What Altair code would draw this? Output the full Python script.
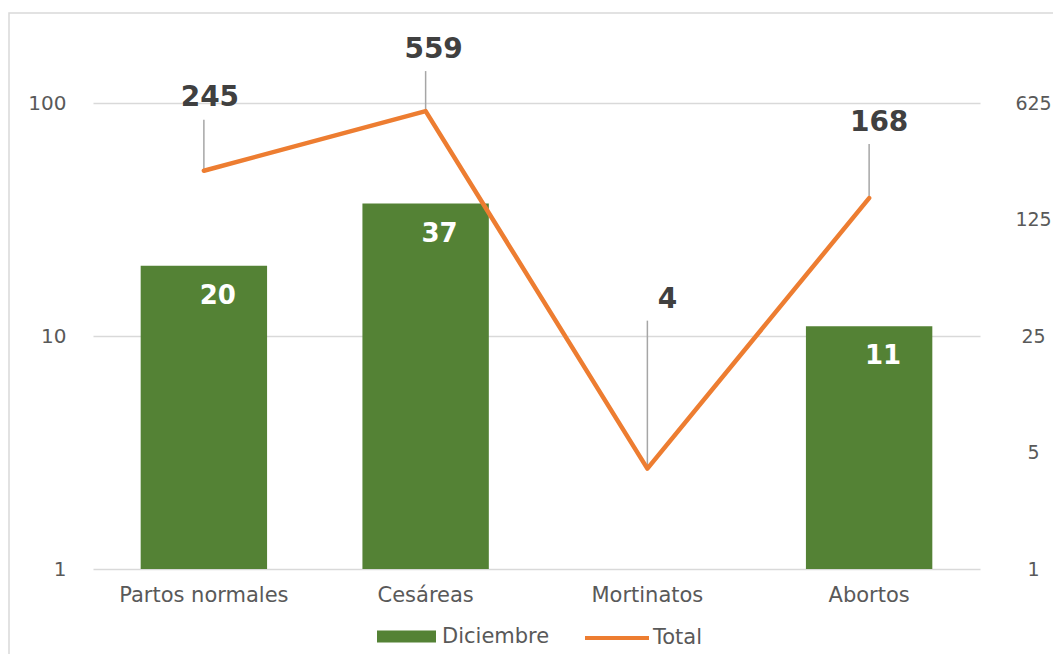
import altair as alt
import pandas as pd

categories = ["Partos normales", "Cesáreas", "Mortinatos", "Abortos"]
diciembre = [20, 37, None, 11]
total = [245, 559, 4, 168]

# layout only (pixels): how far above each line point the label / leader top sit
label_lift_px = [73, 61, 169, 75]
leader_lift_px = [51, 40, 148, 54]
label_dx_px = [6, 8, 20, 10]

PX_PER_STEP = 466 / 4.0  # pixels per factor of 5 on the right axis
HALF_BAND = 126.4 / 2

df = pd.DataFrame({"cat": categories, "Diciembre": diciembre, "Total": total,
                   "lift": label_lift_px, "lead": leader_lift_px, "ldx": label_dx_px})
df["lab_y"] = df["Total"] * 5 ** (df["lift"] / PX_PER_STEP)
df["lead_y"] = df["Total"] * 5 ** (df["lead"] / PX_PER_STEP)
df["ldx"] = df["ldx"] + HALF_BAND

FONT = "DejaVu Sans"
GREEN = "#548235"
ORANGE = "#ED7D31"
GRID = "#D9D9D9"

x_enc = alt.X("cat:N", sort=categories, title=None,
              scale=alt.Scale(paddingInner=0.43, paddingOuter=0.215),
              axis=alt.Axis(labelAngle=0, domain=False, ticks=False, labelPadding=15,
                            labelFont=FONT, labelFontSize=21, labelColor="#595959"))

left_axis = alt.Axis(values=[1, 10, 100], format="d", domain=False, ticks=False,
                     labelPadding=27, labelFont=FONT, labelFontSize=20,
                     labelColor="#595959", grid=True, gridColor=GRID, gridWidth=1.3)
left_scale = alt.Scale(type="log", domain=[1, 100], nice=False)

right_axis = alt.Axis(orient="right", values=[1, 5, 25, 125, 625], format="d",
                      domain=False, ticks=False, grid=False, labelAlign="center",
                      labelPadding=53, labelFont=FONT, labelFontSize=19,
                      labelColor="#595959")
right_scale = alt.Scale(type="log", base=5, domain=[1, 625], nice=False)

base = alt.Chart(df)

bars = base.transform_filter("isValid(datum.Diciembre)").transform_calculate(
    s1="'Diciembre'").mark_bar().encode(
    x=x_enc,
    y=alt.Y("Diciembre:Q", scale=left_scale, axis=left_axis, title=None, stack=None),
    color=alt.Color("s1:N", scale=alt.Scale(domain=["Diciembre"], range=[GREEN]),
                    legend=alt.Legend(title=None, orient="none", legendX=284, legendY=504,
                                      padding=0, symbolType="M-1,-0.2H1V0.2H-1Z",
                                      symbolSize=3481, symbolStrokeWidth=0,
                                      labelFont=FONT, labelFontSize=21,
                                      labelColor="#595959", labelOffset=6)),
)

bar_text = base.transform_filter("isValid(datum.Diciembre)").mark_text(
    font=FONT, fontSize=26, fontWeight="bold", color="white",
    baseline="middle", dy=30, dx=14).encode(
    x=x_enc,
    y=alt.Y("Diciembre:Q", scale=left_scale, axis=left_axis, title=None),
    text=alt.Text("Diciembre:Q", format="d"),
)

frame = alt.Chart(pd.DataFrame({"f": [0]})).mark_rect(
    fill=None, stroke=GRID, strokeWidth=1.5).encode(
    x=alt.value(-84), x2=alt.value(1100), y=alt.value(-90), y2=alt.value(700))

left_layer = alt.layer(bars, bar_text)

leaders = base.mark_rule(color="#A6A6A6", strokeWidth=1.5).encode(
    x=x_enc,
    y=alt.Y("Total:Q", scale=right_scale, axis=right_axis, title=None),
    y2="lead_y:Q",
)

line = base.transform_calculate(s2="'Total'").mark_line(
    strokeWidth=4.5, strokeCap="round", strokeJoin="round").encode(
    x=x_enc,
    y=alt.Y("Total:Q", scale=right_scale, axis=right_axis, title=None),
    stroke=alt.Stroke("s2:N", scale=alt.Scale(domain=["Total"], range=[ORANGE]),
                      legend=alt.Legend(title=None, orient="none", legendX=490, legendY=501,
                                        padding=0, symbolType="stroke", symbolSize=4096,
                                        symbolStrokeWidth=4, labelFont=FONT,
                                        labelFontSize=21, labelColor="#595959",
                                        labelOffset=2)),
)

line_text = base.mark_text(font=FONT, fontSize=28, fontWeight="bold",
                           color="#404040", baseline="middle").encode(
    x=x_enc,
    xOffset=alt.XOffset("ldx:Q", scale=None),
    y=alt.Y("lab_y:Q", scale=right_scale, axis=right_axis, title=None),
    text=alt.Text("Total:Q", format="d"),
)

right_layer = alt.layer(leaders, line, line_text)

chart = alt.layer(frame, left_layer, right_layer).resolve_scale(
    y="independent", color="independent", stroke="independent"
).properties(
    width=887, height=466,
    autosize=alt.AutoSizeParams(type="none"),
    padding={"left": 85, "top": 95, "right": 73, "bottom": 85},
).configure(background="white").configure_view(stroke=None)

chart.save("out.html", embed_options={"renderer": "svg", "actions": False})
